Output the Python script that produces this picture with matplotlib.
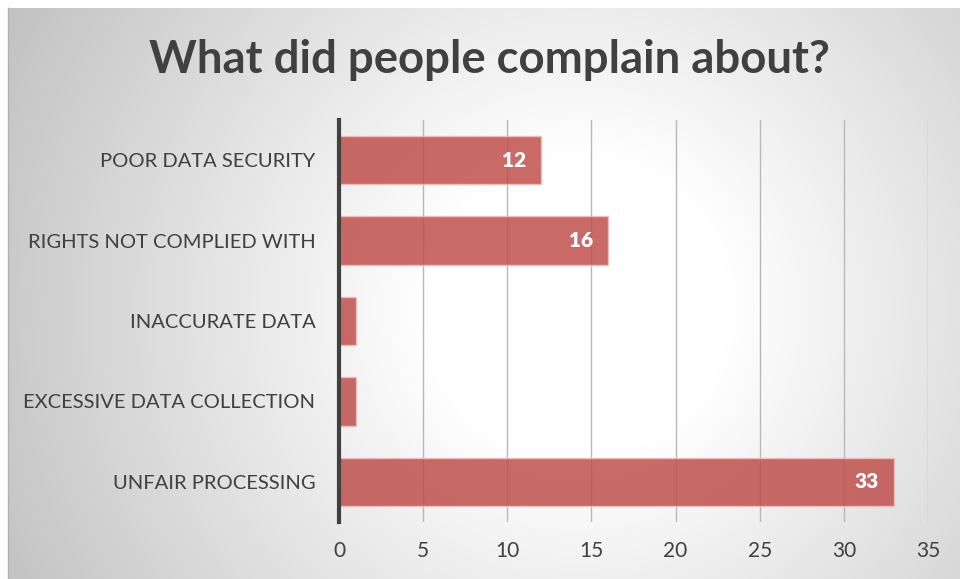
import numpy as np
import matplotlib.pyplot as plt

# data
categories = ["POOR DATA SECURITY", "RIGHTS NOT COMPLIED WITH", "INACCURATE DATA",
              "EXCESSIVE DATA COLLECTION", "UNFAIR PROCESSING"]
values = [12, 16, 1, 1, 33]
labelled = [True, True, False, False, True]

plt.rcParams['font.family'] = ['Lato', 'DejaVu Sans']

W, H = 960, 579
fig = plt.figure(figsize=(W / 100, H / 100), dpi=100)
fig.patch.set_facecolor('white')

# radial gradient background for the chart area
bg = fig.add_axes([8 / W, 0, 1 - 8 / W, 1 - 8 / H])
yy, xx = np.mgrid[0:H - 8, 0:W - 8]
r = np.hypot(xx - 570, yy - 300)
level = 255 - 62 * np.clip((r - 150) / 500, 0, 1)
img = np.dstack([level, level, level]).astype(np.uint8)
bg.imshow(img, aspect='auto', extent=[0, 1, 0, 1], origin='upper')
bg.set_xticks([])
bg.set_yticks([])
for s in ['top', 'right', 'bottom']:
    bg.spines[s].set_visible(False)
bg.spines['left'].set_color('#b0b0b0')
bg.spines['left'].set_linewidth(1)
bg.set_zorder(0)

ax = fig.add_axes([339 / W, 57 / H, (928 - 339) / W, (522 - 120) / H])
ax.patch.set_alpha(0)
ax.set_zorder(1)

y = np.arange(len(categories))
ax.barh(y, values, height=0.6, color='#C0504D', alpha=0.85,
        edgecolor='#f0c0c0', linewidth=1, zorder=3)

for yi, v, show in zip(y, values, labelled):
    if show:
        ax.annotate(str(v), (v, yi), xytext=(-11, 0), textcoords='offset points',
                    ha='right', va='center', color='white', fontsize=15,
                    fontweight='heavy', zorder=4)

ax.set_xlim(0, 35)
ax.set_ylim(len(categories) - 0.5, -0.5)
ax.set_xticks(range(0, 36, 5))
ax.set_yticks(y)
ax.set_yticklabels(categories)
ax.tick_params(axis='y', length=0, pad=17, labelsize=14.5, labelcolor='#404040')
ax.tick_params(axis='x', length=0, pad=14, labelsize=15, labelcolor='#404040')

ax.grid(axis='x', color='#b8b8b8', linewidth=1, zorder=1)
ax.set_axisbelow(True)
for s in ['top', 'right', 'bottom']:
    ax.spines[s].set_visible(False)
ax.spines['left'].set_color('#404040')
ax.spines['left'].set_linewidth(3)
ax.spines['left'].set_zorder(5)

fig.text(489 / W, 1 - 60 / H, "What did people complain about?", ha='center', va='center',
         fontsize=32.8, fontweight='bold', color='#404040')

fig.savefig('out.png', dpi=100)
